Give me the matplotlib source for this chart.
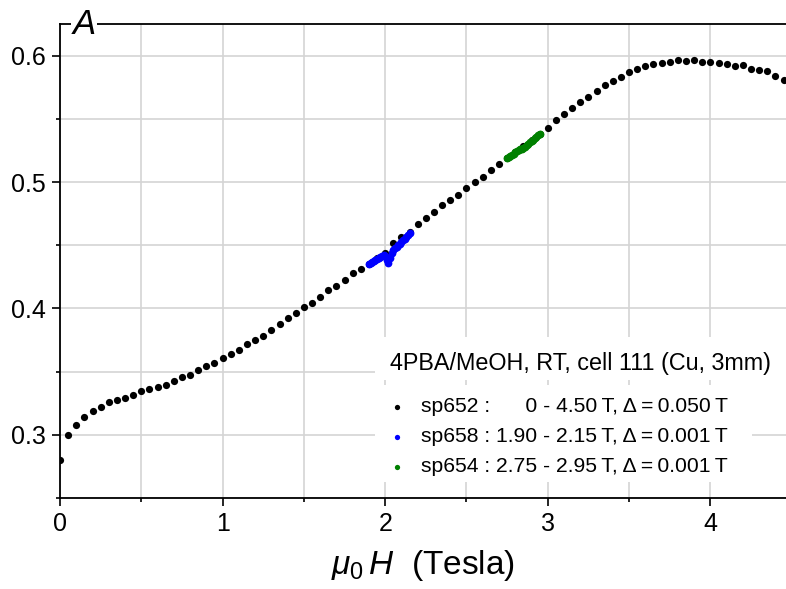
import numpy as np
import matplotlib
matplotlib.use('Agg')
import matplotlib.pyplot as plt
from matplotlib.patches import Rectangle
from matplotlib.ticker import MultipleLocator

plt.rcParams['font.family'] = ['Liberation Sans', 'DejaVu Sans']
plt.rcParams['mathtext.fontset'] = 'custom'
plt.rcParams['mathtext.it'] = 'Liberation Sans:italic'
plt.rcParams['mathtext.rm'] = 'Liberation Sans'

# sp652 : 0 - 4.50 T, step 0.050 T
h652 = np.round(np.arange(0, 4.451, 0.05), 3)
a652 = [0.2798, 0.2998, 0.3074, 0.3140, 0.3185, 0.3222, 0.3261, 0.3274, 0.3293, 0.3313,
        0.3345, 0.3361, 0.3376, 0.3392, 0.3426, 0.3459, 0.3477, 0.3514, 0.3542, 0.3571,
        0.3605, 0.3637, 0.3672, 0.3721, 0.3747, 0.3785, 0.3832, 0.3877, 0.3921, 0.3961,
        0.4008, 0.4045, 0.4092, 0.4142, 0.4174, 0.4221, 0.4279, 0.4313, 0.4350, 0.4395,
        0.4442, 0.4516, 0.4563, 0.4608, 0.4667, 0.4713, 0.4766, 0.4816, 0.4858, 0.4900,
        0.4950, 0.5002, 0.5039, 0.5092, 0.5144, 0.5190, 0.5238, 0.5285, 0.5332, 0.5380,
        0.5429, 0.5487, 0.5536, 0.5582, 0.5629, 0.5673, 0.5718, 0.5768, 0.5803, 0.5831,
        0.5870, 0.5894, 0.5921, 0.5931, 0.5945, 0.5953, 0.5963, 0.5955, 0.5963, 0.5947,
        0.5947, 0.5942, 0.5937, 0.5916, 0.5926, 0.5894, 0.5886, 0.5878, 0.5837, 0.5808]

# sp658 : 1.90 - 2.15 T (read every 0.01 T)
h658 = np.round(np.arange(1.90, 2.151, 0.01), 3)
a658 = [0.4353, 0.4360, 0.4367, 0.4375, 0.4382, 0.4390, 0.4398, 0.4405, 0.4412, 0.4420,
        0.4418, 0.4385, 0.4360, 0.4395, 0.4440, 0.4462, 0.4475, 0.4488, 0.4500, 0.4513,
        0.4527, 0.4540, 0.4553, 0.4567, 0.4580, 0.4593]

# sp654 : 2.75 - 2.95 T (read every 0.01 T)
h654 = np.round(np.arange(2.75, 2.951, 0.01), 3)
a654 = [0.5187, 0.5196, 0.5205, 0.5215, 0.5225, 0.5235, 0.5244, 0.5252, 0.5260, 0.5265,
        0.5270, 0.5279, 0.5290, 0.5302, 0.5313, 0.5325, 0.5336, 0.5347, 0.5358, 0.5368,
        0.5379]

title = '4PBA/MeOH, RT, cell 111 (Cu, 3mm)'
labels = ['sp652 :      0 - 4.50\u2009T, \u0394\u2009=\u20090.050\u2009T',
          'sp658 : 1.90 - 2.15\u2009T, \u0394\u2009=\u20090.001\u2009T',
          'sp654 : 2.75 - 2.95\u2009T, \u0394\u2009=\u20090.001\u2009T']
colors = ['black', '#0000ff', '#008000']

W, H = 786, 589
fig = plt.figure(figsize=(W / 100, H / 100), dpi=100)
ax = fig.add_axes([60 / W, 1 - 498 / H, 726 / W, 474 / H])

ax.plot(h652, a652, 'o', color=colors[0], ms=5.2, mew=0, zorder=3)
ax.plot(h658, a658, 'o', color=colors[1], ms=5.6, mew=0, zorder=4)
ax.plot(h654, a654, 'o', color=colors[2], ms=5.6, mew=0, zorder=4)

ax.set_xlim(0, 4.465)
ax.set_ylim(0.25, 0.625)
ax.xaxis.set_major_locator(MultipleLocator(1))
ax.xaxis.set_minor_locator(MultipleLocator(0.5))
ax.yaxis.set_major_locator(MultipleLocator(0.1))
ax.yaxis.set_minor_locator(MultipleLocator(0.05))
ax.set_yticks([0.3, 0.4, 0.5, 0.6])
ax.set_yticklabels(['0.3', '0.4', '0.5', '0.6'])

ax.set_axisbelow(True)
ax.grid(True, which='both', color='#d4d4d4', lw=1.2)
for s in ['left', 'bottom', 'top']:
    ax.spines[s].set_linewidth(1.3)
ax.spines['right'].set_visible(False)
ax.tick_params(which='major', direction='out', length=6, width=1.2, pad=4)
ax.tick_params(which='minor', direction='out', length=3, width=1.2)
for t in ax.get_xticklabels() + ax.get_yticklabels():
    t.set_fontsize(18)

ax.set_xlabel(r'$\mu_{\mathit{0}}\,\mathit{H}$  (Tesla)', fontsize=24, labelpad=9)

ax.text(0.033, 0.998, 'A', transform=ax.transAxes, fontsize=25, style='italic',
        ha='center', va='center', zorder=6, clip_on=False,
        bbox=dict(fc='white', ec='none', pad=1.0))

# legend block, white behind each line
ax.add_patch(Rectangle((0.434, 0.249), 0.6, 0.091, transform=ax.transAxes,
                       fc='white', ec='none', zorder=5, clip_on=False))
ax.add_patch(Rectangle((0.434, 0.034), 0.519, 0.204, transform=ax.transAxes,
                       fc='white', ec='none', zorder=5, clip_on=False))
ax.text(0.4545, 0.2848, title, transform=ax.transAxes, fontsize=16.8, va='center', zorder=6)
row_y = [0.1926, 0.1293, 0.066]
for y, lab, c in zip(row_y, labels, colors):
    ax.plot([0.4642], [y], 'o', color=c, ms=3.8, mew=0, transform=ax.transAxes,
            zorder=7, clip_on=False)
    ax.text(0.497, y, lab, transform=ax.transAxes, fontsize=15.2, va='center', zorder=6)

fig.savefig('out.png', dpi=100)
